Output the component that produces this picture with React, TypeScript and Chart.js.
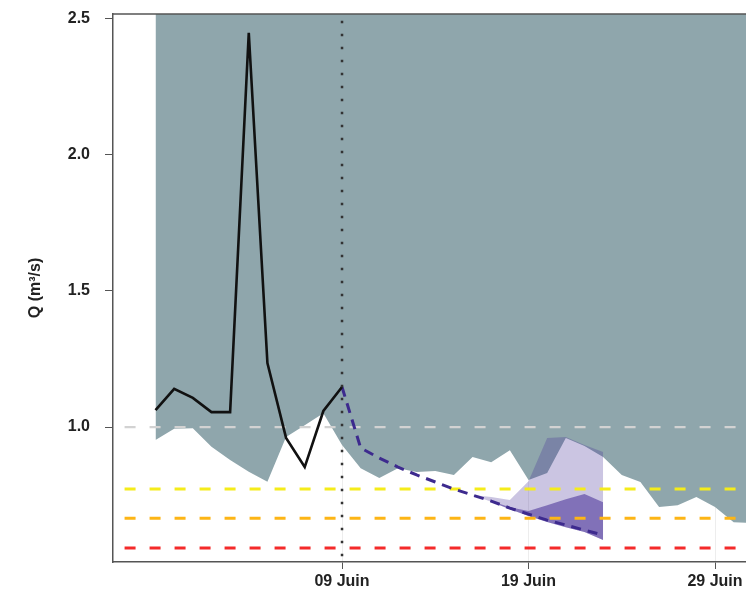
import React, { useEffect, useRef } from "react";
import { Chart, registerables } from "chart.js";

Chart.register(...registerables);

// Days relative to 09 Juin
const OBS_DAYS = [-10, -9, -8, -7, -6, -5, -4, -3, -2, -1, 0];
const OBS_Q = [1.062, 1.14, 1.107, 1.055, 1.055, 2.449, 1.235, 0.96, 0.853, 1.059, 1.147];

const CLIM_DAYS = [-10, -9, -8, -7, -6, -5, -4, -3, -2, -1, 0, 1, 2, 3, 4, 5, 6, 7, 8, 9, 10, 11, 12, 13, 14, 15, 16, 17, 18, 19, 20, 21, 22];
const CLIM_LOW = [0.952, 0.994, 0.996, 0.928, 0.879, 0.836, 0.799, 0.963, 1.007, 1.051, 0.934, 0.849, 0.8125, 0.849, 0.835, 0.838, 0.824, 0.89, 0.871, 0.915, 0.805, 0.831, 0.96, 0.93, 0.89, 0.824, 0.798, 0.706, 0.713, 0.743, 0.706, 0.65, 0.647];
const CLIM_HIGH = [3, 3, 3, 3, 3, 3, 3, 3, 3, 3, 3, 3, 3, 3, 3, 3, 3, 3, 3, 3, 3, 3, 3, 3, 3, 3, 3, 3, 3, 3, 3, 3, 3];

const FC_DAYS = [0, 1, 2, 3, 4, 5, 6, 7, 8, 9, 10, 11, 12, 13, 14];
const FC_MED = [1.147, 0.923, 0.886, 0.853, 0.824, 0.798, 0.772, 0.75, 0.728, 0.702, 0.68, 0.658, 0.64, 0.621, 0.603];

const ENV_DAYS = [7, 8, 9, 10, 11, 12, 13, 14];
const ENV_MIN = [0.75, 0.725, 0.698, 0.673, 0.651, 0.632, 0.614, 0.585];
const ENV_MAX = [0.75, 0.743, 0.732, 0.801, 0.96, 0.963, 0.934, 0.908];

const INNER_DAYS = [8, 9, 10, 11, 12, 13, 14];
const INNER_LOW = [0.725, 0.698, 0.673, 0.651, 0.632, 0.614, 0.585];
const INNER_HIGH = [0.728, 0.705, 0.691, 0.713, 0.735, 0.754, 0.724];

const THRESH_NAMES = ["module", "vigilance", "alerte", "crise"];
const THRESH_VALUES = [1.0, 0.772, 0.665, 0.555];
const THRESH_COLORS = ["#d2d2d2", "#f5ec1a", "#fdb515", "#f42a2a"];

const FORECAST_START = 0;

const X_TICK_DAYS = [0, 10, 20];
const X_TICK_LABELS = ["09 Juin", "19 Juin", "29 Juin"];
const Y_TICKS = [1.0, 1.5, 2.0, 2.5];

const X_MIN = -12.28;
const X_MAX = 22.68;
const Y_MIN = 0.504;
const Y_MAX = 2.518;

const pts = (xs: number[], ys: number[]) => xs.map((x, i) => ({ x, y: ys[i] }));

const FONT = { family: "'Liberation Sans', Arial, sans-serif", size: 16, weight: "bold" as const };
const AXIS_COLOR = "#555555";
const PURPLE = "70,45,150";

export default function App() {
  const ref = useRef<HTMLCanvasElement | null>(null);

  useEffect(() => {
    if (!ref.current) return;
    const none = "rgba(0,0,0,0)";
    const base = { pointRadius: 0, pointHoverRadius: 0, tension: 0, borderColor: none, borderWidth: 0 };

    const thresholdSets = THRESH_VALUES.map((v, i) => ({
      ...base,
      label: THRESH_NAMES[i],
      data: [{ x: -13, y: v }, { x: 23, y: v }],
      borderColor: THRESH_COLORS[i],
      borderWidth: i === 0 ? 2.2 : 3,
      borderDash: [11, 14],
      fill: false,
      order: 4,
    }));

    const topBorder = {
      id: "topBorder",
      afterDraw(chart: any) {
        const { ctx, chartArea } = chart;
        ctx.save();
        ctx.strokeStyle = AXIS_COLOR;
        ctx.lineWidth = 1.5;
        ctx.beginPath();
        ctx.moveTo(chartArea.left, chartArea.top);
        ctx.lineTo(chartArea.right, chartArea.top);
        ctx.stroke();
        ctx.restore();
      },
    };

    const chart = new Chart(ref.current, {
      type: "line",
      data: {
        datasets: [
          { ...base, label: "climLow", data: pts(CLIM_DAYS, CLIM_LOW), fill: false, order: 10 },
          { ...base, label: "climHigh", data: pts(CLIM_DAYS, CLIM_HIGH), fill: "-1", backgroundColor: "#8fa6ac", order: 9 },
          { ...base, label: "envMin", data: pts(ENV_DAYS, ENV_MIN), fill: false, order: 8 },
          { ...base, label: "envMax", data: pts(ENV_DAYS, ENV_MAX), fill: "-1", backgroundColor: `rgba(${PURPLE},0.28)`, order: 7 },
          { ...base, label: "innerLow", data: pts(INNER_DAYS, INNER_LOW), fill: false, order: 6 },
          { ...base, label: "innerHigh", data: pts(INNER_DAYS, INNER_HIGH), fill: "-1", backgroundColor: `rgba(${PURPLE},0.55)`, order: 5 },
          ...thresholdSets,
          {
            ...base,
            label: "prevision",
            data: pts(FC_DAYS, FC_MED),
            borderColor: "#3d2a8e",
            borderWidth: 3,
            borderDash: [10, 7],
            fill: false,
            order: 3,
          },
          {
            ...base,
            label: "observe",
            data: pts(OBS_DAYS, OBS_Q),
            borderColor: "#111111",
            borderWidth: 2.6,
            fill: false,
            order: 2,
          },
          {
            ...base,
            label: "now",
            data: [{ x: FORECAST_START, y: 0 }, { x: FORECAST_START, y: 3 }],
            borderColor: "#333333",
            borderWidth: 2.5,
            borderDash: [2.5, 10.5],
            fill: false,
            order: 1,
          },
        ],
      },
      options: {
        responsive: false,
        animation: false,
        devicePixelRatio: 1,
        layout: { padding: { top: 14, right: 15, left: 0, bottom: 0 } },
        plugins: { legend: { display: false }, tooltip: { enabled: false } },
        events: [],
        scales: {
          x: {
            type: "linear",
            min: X_MIN,
            max: X_MAX,
            border: { display: true, color: AXIS_COLOR, width: 1.5 },
            grid: {
              display: true,
              drawOnChartArea: true,
              color: "rgba(0,0,0,0.07)",
              lineWidth: 1,
              tickColor: AXIS_COLOR,
              tickLength: 7,
            },
            ticks: {
              font: FONT,
              color: "#222222",
              padding: 3,
              maxRotation: 0,
              callback: (v: any) => {
                const i = X_TICK_DAYS.indexOf(Number(v));
                return i >= 0 ? X_TICK_LABELS[i] : "";
              },
            },
            afterBuildTicks: (scale: any) => {
              scale.ticks = X_TICK_DAYS.map((v) => ({ value: v }));
            },
            afterFit: (scale: any) => {
              scale.height = 29;
              scale.paddingLeft = 0;
              scale.paddingRight = 0;
            },
          },
          y: {
            type: "linear",
            min: Y_MIN,
            max: Y_MAX,
            border: { display: true, color: AXIS_COLOR, width: 1.5 },
            grid: {
              display: true,
              drawOnChartArea: false,
              tickColor: AXIS_COLOR,
              tickLength: 8,
            },
            ticks: {
              font: FONT,
              color: "#222222",
              padding: 15,
              callback: (v: any) => Number(v).toFixed(1),
            },
            afterBuildTicks: (scale: any) => {
              scale.ticks = Y_TICKS.map((v) => ({ value: v }));
            },
            afterFit: (scale: any) => {
              scale.width = 113;
              scale.paddingTop = 0;
              scale.paddingBottom = 0;
            },
            title: {
              display: true,
              text: "Q (m³/s)",
              font: FONT,
              color: "#222222",
              padding: { top: 26, bottom: 0 },
            },
          },
        },
      },
      plugins: [topBorder],
    } as any);

    return () => chart.destroy();
  }, []);

  return (
    <div style={{ position: "fixed", left: 0, top: 0, width: 746, height: 591, overflow: "hidden", background: "#fff" }}>
      <canvas ref={ref} width={780} height={591} style={{ display: "block", width: 780, height: 591 }} />
    </div>
  );
}
